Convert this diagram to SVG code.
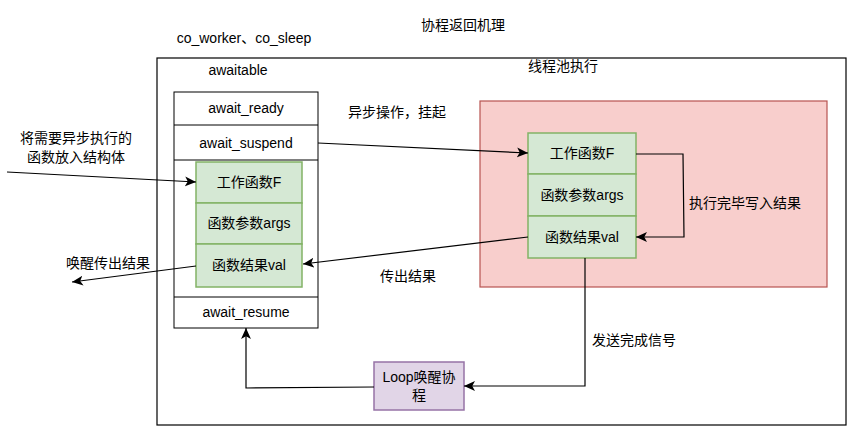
<svg xmlns="http://www.w3.org/2000/svg" width="860" height="436" viewBox="0 0 860 436">
<style>
text{font-family:"Liberation Sans","Noto Sans CJK SC",sans-serif;font-size:14px;fill:#000;text-anchor:middle}
.box{fill:#fff;stroke:#000;stroke-width:1}
.g{fill:#d5e8d4;stroke:#82b366;stroke-width:1.5}
.p{fill:#f8cecc;stroke:#b85450;stroke-width:1.2}
.v{fill:#e1d5e7;stroke:#9673a6;stroke-width:1.5}
.c{fill:none;stroke:#000;stroke-width:1.2;marker-end:url(#ah)}
</style>
<defs>
<marker id="ah" viewBox="0 0 10 10" refX="10" refY="5" markerWidth="11" markerHeight="11" markerUnits="userSpaceOnUse" orient="auto">
<path d="M0,0.5 L10,5 L0,9.5 L2.5,5 Z" fill="#000"/>
</marker>
</defs>
<rect width="860" height="436" fill="#fff"/>
<g id="title"><text x="463" y="30">协程返回机理</text></g>
<g id="label-co"><text x="244" y="43">co_worker、co_sleep</text></g>
<g id="outer">
<rect x="157" y="58" width="689" height="367" fill="#fff" stroke="#000" stroke-width="1.2"/>
<text x="238" y="75">awaitable</text>
</g>
<g id="pool">
<rect class="p" x="480" y="101" width="347" height="186"/>
<text x="563" y="71">线程池执行</text>
</g>
<g id="awaitable">
<rect class="box" x="174" y="92" width="144" height="236"/>
<line x1="174" y1="125" x2="318" y2="125" stroke="#000"/>
<line x1="174" y1="160" x2="318" y2="160" stroke="#000"/>
<line x1="174" y1="297" x2="318" y2="297" stroke="#000"/>
<text x="246" y="113">await_ready</text>
<text x="246" y="148">await_suspend</text>
<text x="246" y="317">await_resume</text>
</g>
<g id="left-struct">
<rect class="g" x="196" y="162" width="106" height="41"/>
<rect class="g" x="196" y="203" width="106" height="41"/>
<rect class="g" x="196" y="244" width="106" height="43"/>
<text x="249" y="187">工作函数F</text>
<text x="249" y="228">函数参数args</text>
<text x="249" y="270">函数结果val</text>
</g>
<g id="right-struct">
<rect class="g" x="528" y="133" width="108" height="41"/>
<rect class="g" x="528" y="174" width="108" height="42"/>
<rect class="g" x="528" y="216" width="108" height="42"/>
<text x="582" y="158">工作函数F</text>
<text x="582" y="200">函数参数args</text>
<text x="582" y="242">函数结果val</text>
</g>
<g id="loop">
<rect class="v" x="374" y="362" width="90" height="48"/>
<text x="419" y="382">Loop唤醒协</text>
<text x="419" y="400">程</text>
</g>
<g id="connectors">
<path class="c" d="M7,172 L196,182"/>
<path class="c" d="M196,266 L72,282"/>
<path class="c" d="M318,143 L528,153"/>
<path class="c" d="M528,237 L303,264"/>
<path class="c" d="M636,154 H683 L684,237 H636"/>
<path class="c" d="M585,258 V386 H464"/>
<path class="c" d="M374,387 L246,388 V328"/>
</g>
<g id="labels">
<text x="76" y="143">将需要异步执行的</text>
<text x="76" y="162">函数放入结构体</text>
<text x="108" y="268">唤醒传出结果</text>
<text x="397" y="117">异步操作，挂起</text>
<text x="745" y="208">执行完毕写入结果</text>
<text x="408" y="281">传出结果</text>
<text x="634" y="345">发送完成信号</text>
</g>
</svg>
